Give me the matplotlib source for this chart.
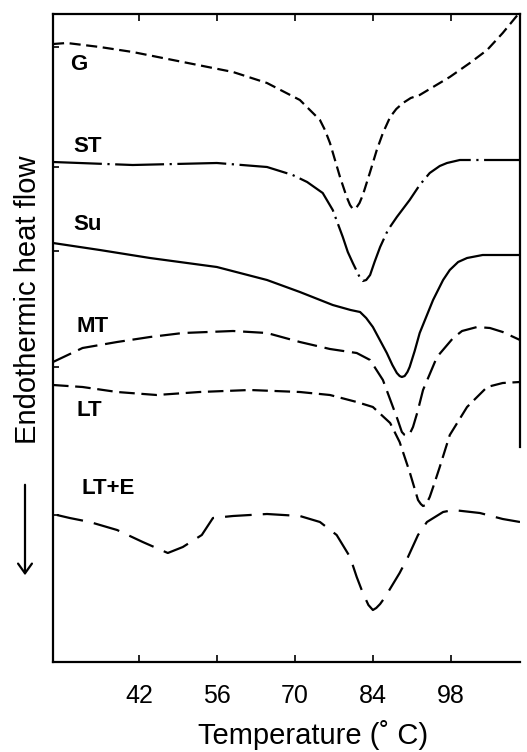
import matplotlib
matplotlib.use("Agg")
import matplotlib.pyplot as plt

# DSC thermograms (temperature in deg C, heat flow in arbitrary units, curves stacked)
t_g = [26.6, 29.1, 35.0, 40.9, 49.9, 58.9, 65.0, 70.9, 74.5, 75.4, 76.3, 77.2, 78.1, 79.3,
       79.9, 80.4, 81.0, 81.6, 82.2, 83.5, 84.7, 85.8, 87.1, 88.2, 89.4, 90.8, 92.4, 97.8,
       101.4, 104.5, 107.3, 110.4]
hf_g = [618, 619, 615, 610, 600, 590, 579, 562, 542, 532, 519, 502, 485, 465,
        457, 453, 454, 459, 467, 490, 512, 529, 545, 553, 559, 564, 567, 585,
        599, 612, 629, 650]

t_st = [26.6, 40.9, 56.0, 65.0, 69.6, 72.2, 75.0, 76.8, 78.6, 79.5, 80.4, 81.1, 81.7,
        82.2, 82.8, 83.5, 84.3, 85.3, 86.7, 88.3, 90.6, 92.4, 94.2, 96.0, 97.3, 99.6, 110.4]
hf_st = [500, 497, 499, 495, 487, 480, 469, 452, 425, 410, 399, 391, 384,
         381, 382, 387, 400, 415, 432, 445, 462, 477, 489, 496, 499, 502, 502]

t_su = [26.6, 35.0, 44.0, 56.0, 65.0, 70.9, 76.8, 80.0, 81.7, 82.8, 84.0, 86.5, 87.5,
        88.3, 88.8, 89.2, 89.7, 90.2, 90.6, 91.5, 92.4, 94.8, 96.6, 97.8, 99.3, 100.9,
        103.7, 110.4]
hf_su = [419, 412, 404, 395, 382, 370, 357, 352, 350, 344, 335, 309, 297,
         289, 286, 285, 286, 290, 295, 311, 329, 362, 382, 392, 400, 404,
         407, 407]

t_mt = [26.6, 31.9, 38.1, 44.0, 49.9, 58.9, 65.0, 70.9, 76.3, 81.1, 83.5, 85.8, 87.6,
        88.4, 89.2, 89.7, 90.1, 90.6, 91.2, 92.0, 93.0, 95.5, 98.4, 100.0, 102.7, 105.0,
        107.3, 110.4]
hf_mt = [300, 314, 320, 325, 329, 331, 329, 320, 313, 309, 302, 282, 255,
         243, 230, 227, 226, 228, 235, 250, 272, 305, 324, 331, 335, 334,
         330, 322]

t_lt = [26.6, 31.9, 38.1, 45.2, 52.9, 61.9, 70.9, 76.3, 81.1, 84.0, 87.1, 88.8, 90.6,
        92.1, 92.6, 93.0, 93.5, 94.2, 95.0, 96.0, 97.8, 100.9, 104.5, 107.3, 110.4]
hf_lt = [277, 275, 270, 267, 270, 272, 270, 267, 260, 255, 239, 220, 190,
         162, 158, 156, 157, 165, 178, 195, 227, 255, 275, 279, 280]

t_lte = [27.3, 29.6, 33.2, 38.1, 42.7, 47.2, 49.9, 53.3, 55.3, 58.9, 65.0, 70.9, 74.5,
         77.5, 79.9, 81.1, 82.2, 83.2, 84.0, 84.6, 85.3, 86.2, 88.8, 90.3, 92.1, 93.7,
         96.6, 98.4, 103.2, 107.3, 110.4]
hf_lte = [147, 144, 140, 132, 120, 109, 115, 127, 144, 146, 148, 146, 140,
          127, 105, 85, 69, 57, 52, 54, 58, 65, 89, 105, 127, 140,
          150, 152, 149, 143, 140]

names = ["G", "ST", "Su", "MT", "LT", "LT+E"]
xticks = [42, 56, 70, 84, 98]

sans = ["Liberation Sans", "DejaVu Sans"]

fig = plt.figure(figsize=(5.27, 7.52), dpi=100)
ax = fig.add_axes([53 / 527, 90 / 752, 467 / 527, 648 / 752])

lw = 1.6
kw = dict(color="black", lw=lw, solid_joinstyle="round", dash_joinstyle="round")
ax.plot(t_g, hf_g, linestyle=(0, (5, 2.5)), **kw)
ax.plot(t_st, hf_st, linestyle=(0, (22, 2.5, 1, 2.5)), **kw)
ax.plot(t_su, hf_su, linestyle="-", **kw)
ax.plot(t_mt, hf_mt, linestyle=(0, (9, 3.5)), **kw)
ax.plot(t_lt, hf_lt, linestyle=(0, (7, 3)), **kw)
ax.plot(t_lte, hf_lte, linestyle=(0, (12, 5)), **kw)

# curve labels
label_x = [29.6, 30.2, 30.2, 30.9, 30.9, 31.8]
label_y = [598, 515, 437, 335, 251, 173]
for name, lx, ly in zip(names, label_x, label_y):
    ax.text(lx, ly, name, fontsize=16, fontweight="bold", family=sans,
            ha="left", va="center")

ax.set_xlim(26.6, 110.4)
ax.set_ylim(0, 648)
ax.set_xticks(xticks)
ax.set_xticklabels([str(v) for v in xticks], family=sans, fontsize=18)
ax.set_yticks([147, 295, 411, 495, 615])
ax.set_yticklabels([])
ax.tick_params(axis="x", direction="in", length=5, width=1.2, pad=16, top=True)
ax.tick_params(axis="y", direction="in", length=4, width=1.2)

for s in ax.spines.values():
    s.set_linewidth(1.6)
ax.spines["right"].set_bounds(215, 648)

fig.text(313 / 527, 1 - 735 / 752, "Temperature (\u02da C)", family=sans,
         fontsize=21, ha="center", va="center")
fig.text(28 / 527, 1 - 300 / 752, "Endothermic heat flow", family=sans,
         fontsize=21, rotation=90, ha="center", va="center")
fig.add_artist(matplotlib.patches.FancyArrowPatch(
    (25 / 527, 1 - 482 / 752), (25 / 527, 1 - 578 / 752),
    transform=fig.transFigure, arrowstyle="->,head_length=7,head_width=5",
    color="black", lw=1.6))

fig.savefig("out.png", dpi=100)
